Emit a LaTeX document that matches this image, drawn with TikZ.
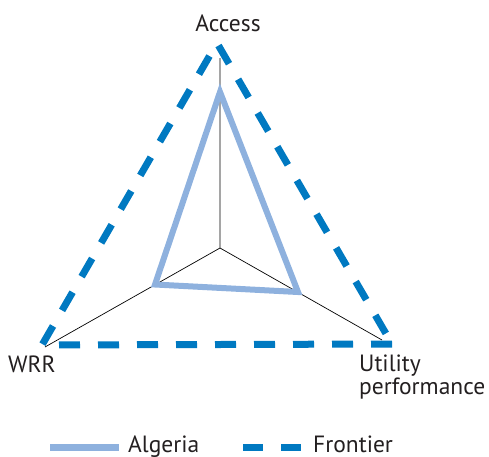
\documentclass[tikz,border=0pt]{standalone}
\usepackage{fontspec}
\setmainfont{PT Sans}
\definecolor{frontierblue}{HTML}{0079C1}
\definecolor{algeriablue}{HTML}{8EB1DE}
\definecolor{labelgray}{HTML}{231F20}
\begin{document}
\begin{tikzpicture}[x=1pt,y=-1pt,
  axisline/.style={black,line width=0.7pt},
  frontierline/.style={frontierblue,line width=7pt,dash pattern=on 21pt off 18pt,line join=miter},
  algerialine/.style={algeriablue,line width=6pt,line join=miter},
  lbl/.style={text=labelgray,inner sep=0pt,font=\fontsize{23.5}{20}\selectfont}]
\useasboundingbox (0,0) rectangle (489,456);
% radar axes
\coordinate (C) at (220,248);
\coordinate (A) at (220,58);
\coordinate (W) at (45,347);
\coordinate (U) at (382,340);
\draw[axisline] (C) -- (A) (C) -- (W) (C) -- (U);
% frontier (outer triangle)
\coordinate (fA) at (217,43);
\coordinate (fW) at (42,345);
\coordinate (fU) at (392,344);
\draw[frontierline] (fU) -- (fW) -- (fA) -- cycle;
% Algeria profile
\coordinate (a1) at (220,92);
\coordinate (a2) at (155,284.5);
\coordinate (a3) at (298,292);
\draw[algerialine] (a1) -- (a2) -- (a3) -- cycle;
% axis labels
\node[lbl,anchor=base] (lA) at (228,31) {Access};
\node[lbl,anchor=base west] (lW) at (8,372) {WRR};
\node[lbl,anchor=base west,align=left] (lU) at (359,394) {Utility\\performance};
% legend
\coordinate (g1) at (50,447.5);
\coordinate (g2) at (119,447.5);
\draw[algerialine,line width=7.5pt] (g1) -- (g2);
\node[lbl,anchor=base west] (tAlg) at (128,452.5) {Algeria};
\coordinate (f1) at (243,447.5);
\coordinate (f2) at (302,447.5);
\draw[frontierline,dash pattern=on 20pt off 18pt] (f1) -- (f2);
\node[lbl,anchor=base west] (tFr) at (313,452.5) {Frontier};
\end{tikzpicture}
\end{document}
